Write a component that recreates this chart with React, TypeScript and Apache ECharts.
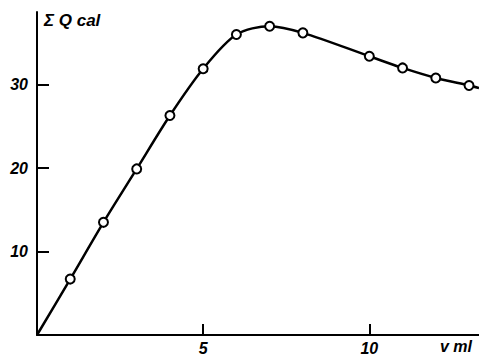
import React, { useEffect, useRef } from "react";
import * as echarts from "echarts";

const volumes = [0, 1, 2, 3, 4, 5, 6, 7, 8, 10, 11, 12, 13, 13.3];
const heatSums = [0, 6.7, 13.5, 19.9, 26.3, 31.9, 36.0, 37.0, 36.2, 33.4, 32.0, 30.8, 29.9, 29.6];
const markedIdx = [1, 2, 3, 4, 5, 6, 7, 8, 9, 10, 11, 12];
const xTickValues = [5, 10];
const yTickValues = [10, 20, 30];
const yAxisTitle = "Σ Q cal";
const xAxisTitle = "v ml";

const FONT = "'Liberation Sans', Arial, sans-serif";

export default function App() {
  const ref = useRef<HTMLDivElement>(null);
  useEffect(() => {
    if (!ref.current) return;
    const chart = echarts.init(ref.current, null, { renderer: "svg" });
    const data = volumes.map((v, i) => ({
      value: [v, heatSums[i]],
      symbol: markedIdx.includes(i) ? "circle" : "none",
    }));
    const labelStyle = {
      color: "#000",
      fontFamily: FONT,
      fontStyle: "italic" as const,
      fontWeight: "bold" as const,
      fontSize: 16,
    };
    chart.setOption({
      animation: false,
      backgroundColor: "#fff",
      grid: { left: 37, right: 0, top: 12, bottom: 20.5, containLabel: false },
      xAxis: {
        type: "value",
        min: 0,
        max: 13.3,
        interval: 5,
        splitLine: { show: false },
        axisLine: { show: true, onZero: false, lineStyle: { color: "#000", width: 2 } },
        axisTick: { show: true, inside: true, length: 11, lineStyle: { color: "#000", width: 2 }, customValues: xTickValues },
        axisLabel: { ...labelStyle, margin: 5, customValues: xTickValues },
      },
      yAxis: {
        type: "value",
        min: 0,
        max: 38.7,
        interval: 10,
        splitLine: { show: false },
        axisLine: { show: true, onZero: false, lineStyle: { color: "#000", width: 2 } },
        axisTick: { show: true, inside: true, length: 12, lineStyle: { color: "#000", width: 2 }, customValues: yTickValues },
        axisLabel: { ...labelStyle, margin: 9, customValues: yTickValues },
      },
      graphic: [
        {
          type: "text",
          left: 44,
          top: 12,
          style: { text: yAxisTitle, fill: "#000", font: `italic bold 17px ${FONT}` },
        },
        {
          type: "text",
          left: 440,
          top: 338,
          style: { text: xAxisTitle, fill: "#000", font: `italic bold 16px ${FONT}` },
        },
      ],
      series: [
        {
          type: "line",
          data,
          smooth: 0.3,
          symbolSize: 9,
          showAllSymbol: true,
          lineStyle: { color: "#000", width: 2.5 },
          itemStyle: { color: "#fff", borderColor: "#000", borderWidth: 2 },
          z: 3,
        },
      ],
    });
    return () => chart.dispose();
  }, []);
  return (
    <div
      ref={ref}
      style={{ position: "fixed", left: 0, top: 0, width: 479, height: 356, background: "#fff" }}
    />
  );
}
